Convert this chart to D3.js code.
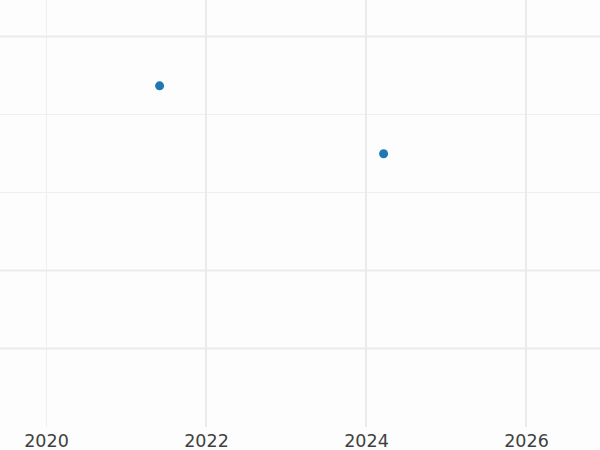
<!DOCTYPE html>
<html>
<head>
<meta charset="utf-8">
<script src="https://cdn.jsdelivr.net/npm/d3@7"></script>
<style>
html,body{margin:0;padding:0;background:#fff;}
svg{display:block;}
</style>
</head>
<body>
<svg id="chart" width="600" height="450"></svg>
<script>
// Data
const pointYears = [2021.42, 2024.22];
const pointValues = [43.6, 34.9];
const xTickLabels = [2020, 2022, 2024, 2026];
const xMajorGrid = [2022, 2024, 2026];
const xMinorGrid = [2020];
const yMajorGrid = [10, 20, 50];
const yMinorGrid = [30, 40];

const W = 600, H = 450;
const plotBottom = 427;
const svg = d3.select("#chart");
svg.append("rect").attr("width", W).attr("height", H).attr("fill", "#fdfdfd");

const x = d3.scaleLinear().domain([2019.425, 2026.925]).range([0, W]);
const y = d3.scaleLinear().domain([-0.1, 54.6]).range([plotBottom, 0]);

const g = svg.append("g");
// minor grid
g.selectAll(".xminor").data(xMinorGrid).join("line")
  .attr("x1", d => Math.round(x(d)) + 0.5).attr("x2", d => Math.round(x(d)) + 0.5)
  .attr("y1", 0).attr("y2", plotBottom)
  .attr("stroke", "#efefef").attr("stroke-width", 1);
g.selectAll(".yminor").data(yMinorGrid).join("line")
  .attr("x1", 0).attr("x2", W)
  .attr("y1", d => Math.round(y(d)) + 0.5).attr("y2", d => Math.round(y(d)) + 0.5)
  .attr("stroke", "#efefef").attr("stroke-width", 1);
// major grid
g.selectAll(".xmajor").data(xMajorGrid).join("line")
  .attr("x1", d => Math.round(x(d))).attr("x2", d => Math.round(x(d)))
  .attr("y1", 0).attr("y2", plotBottom)
  .attr("stroke", "#ebebeb").attr("stroke-width", 2);
g.selectAll(".ymajor").data(yMajorGrid).join("line")
  .attr("x1", 0).attr("x2", W)
  .attr("y1", d => Math.round(y(d)) + 0.5).attr("y2", d => Math.round(y(d)) + 0.5)
  .attr("stroke", "#ebebeb").attr("stroke-width", 2);

// x axis labels
const xAxis = d3.axisBottom(x).tickValues(xTickLabels).tickFormat(d3.format("d")).tickSize(0).tickPadding(0);
const ax = svg.append("g").attr("transform", `translate(0,${plotBottom + 7.5})`).call(xAxis);
ax.select(".domain").remove();
ax.selectAll("text").attr("font-family", "DejaVu Sans, sans-serif").attr("font-size", 17.5).attr("fill", "#404040").attr("dy", "0.71em");

// points
svg.selectAll(".pt").data(pointYears.map((d, i) => ({x: d, y: pointValues[i]}))).join("circle")
  .attr("cx", d => x(d.x)).attr("cy", d => y(d.y)).attr("r", 4.5)
  .attr("fill", "#1f77b4");
</script>
</body>
</html>
